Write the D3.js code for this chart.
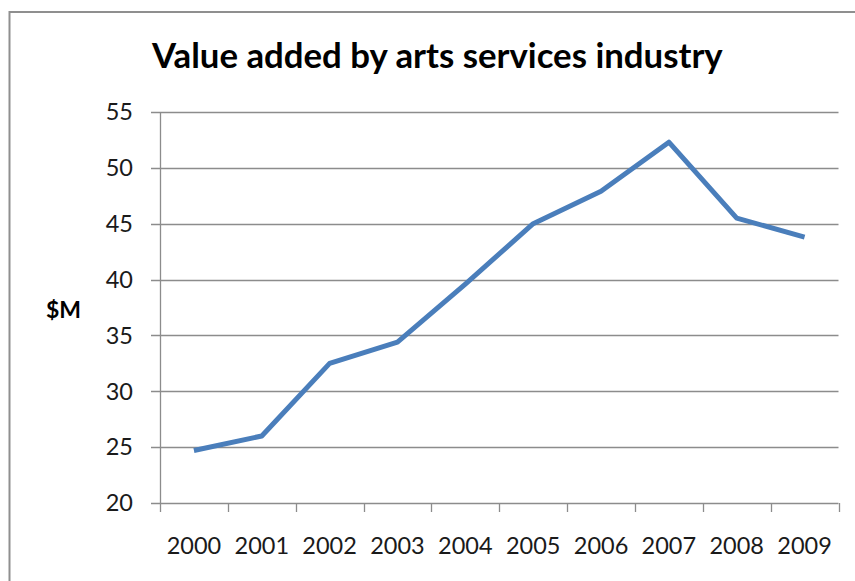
<!DOCTYPE html>
<html>
<head>
<meta charset="utf-8">
<script src="https://cdn.jsdelivr.net/npm/d3@7"></script>
<style>
  html, body { margin: 0; padding: 0; background: #fff; }
  svg { display: block; }
</style>
</head>
<body>
<svg id="chart" width="855" height="581"></svg>
<script>
const years = ["2000","2001","2002","2003","2004","2005","2006","2007","2008","2009"];
const values = [24.7, 26.0, 32.5, 34.4, 39.6, 45.0, 47.9, 52.3, 45.5, 43.8];
const yTicks = [20, 25, 30, 35, 40, 45, 50, 55];
const titleText = "Value added by arts services industry";
const yLabel = "$M";

const svg = d3.select("#chart");
const gridColor = "#8c8c8c";
const textColor = "#1a1a1a";
const fontFam = "Lato, 'Open Sans', 'DejaVu Sans', sans-serif";

// outer frame
svg.append("rect")
  .attr("x", 9.5).attr("y", 12)
  .attr("width", 900).attr("height", 700)
  .attr("fill", "none")
  .attr("stroke", "#8f8f8f")
  .attr("stroke-width", 2);

const plotLeft = 160, plotRight = 838.5, plotTop = 112, plotBottom = 503;

const x = d3.scaleBand().domain(years).range([plotLeft, plotRight]).padding(0);
const y = d3.scaleLinear().domain([20, 55]).range([plotBottom, plotTop]);

// gridlines
svg.append("g")
  .selectAll("line")
  .data(yTicks)
  .join("line")
  .attr("x1", plotLeft - 9).attr("x2", plotRight)
  .attr("y1", d => Math.round(y(d)) + 0.5)
  .attr("y2", d => Math.round(y(d)) + 0.5)
  .attr("stroke", gridColor)
  .attr("stroke-width", 1.3);

// y axis line
svg.append("line")
  .attr("x1", plotLeft + 0.5).attr("x2", plotLeft + 0.5)
  .attr("y1", plotTop).attr("y2", plotBottom)
  .attr("stroke", gridColor).attr("stroke-width", 1.3);

// x axis ticks
const xEdges = years.map(d => x(d)).concat([plotRight]);
svg.append("g")
  .selectAll("line")
  .data(xEdges)
  .join("line")
  .attr("x1", d => Math.round(d) + 0.5).attr("x2", d => Math.round(d) + 0.5)
  .attr("y1", Math.round(y(20))).attr("y2", Math.round(y(20)) + 9)
  .attr("stroke", gridColor).attr("stroke-width", 1.3);

// y tick labels
svg.append("g")
  .selectAll("text")
  .data(yTicks)
  .join("text")
  .attr("x", 133)
  .attr("y", d => y(d))
  .attr("dy", "0.35em")
  .attr("text-anchor", "end")
  .attr("font-family", fontFam)
  .attr("font-size", 23.5)
  .attr("fill", textColor)
  .text(d => d);

// x tick labels
svg.append("g")
  .selectAll("text")
  .data(years)
  .join("text")
  .attr("x", d => x(d) + x.bandwidth() / 2)
  .attr("y", 554)
  .attr("text-anchor", "middle")
  .attr("font-family", fontFam)
  .attr("font-size", 23.5)
  .attr("fill", textColor)
  .text(d => d);

// line
const line = d3.line()
  .x((d, i) => x(years[i]) + x.bandwidth() / 2)
  .y(d => y(d));

svg.append("path")
  .datum(values)
  .attr("d", line)
  .attr("fill", "none")
  .attr("stroke", "#4a7ebb")
  .attr("stroke-width", 5)
  .attr("stroke-linejoin", "round")
  .attr("stroke-linecap", "butt");

// title
const title = svg.append("text")
  .attr("x", 152)
  .attr("y", 68)
  .attr("font-family", fontFam)
  .attr("font-weight", "bold")
  .attr("font-size", 30)
  .attr("fill", "#000")
  .text(titleText);
const tw = title.node().getComputedTextLength();
title.attr("font-size", 30 * 571 / tw);

// y label
svg.append("text")
  .attr("x", 46)
  .attr("y", 310)
  .attr("dy", "0.35em")
  .attr("font-family", fontFam)
  .attr("font-weight", "bold")
  .attr("font-size", 23)
  .attr("fill", "#000")
  .text(yLabel);
</script>
</body>
</html>
